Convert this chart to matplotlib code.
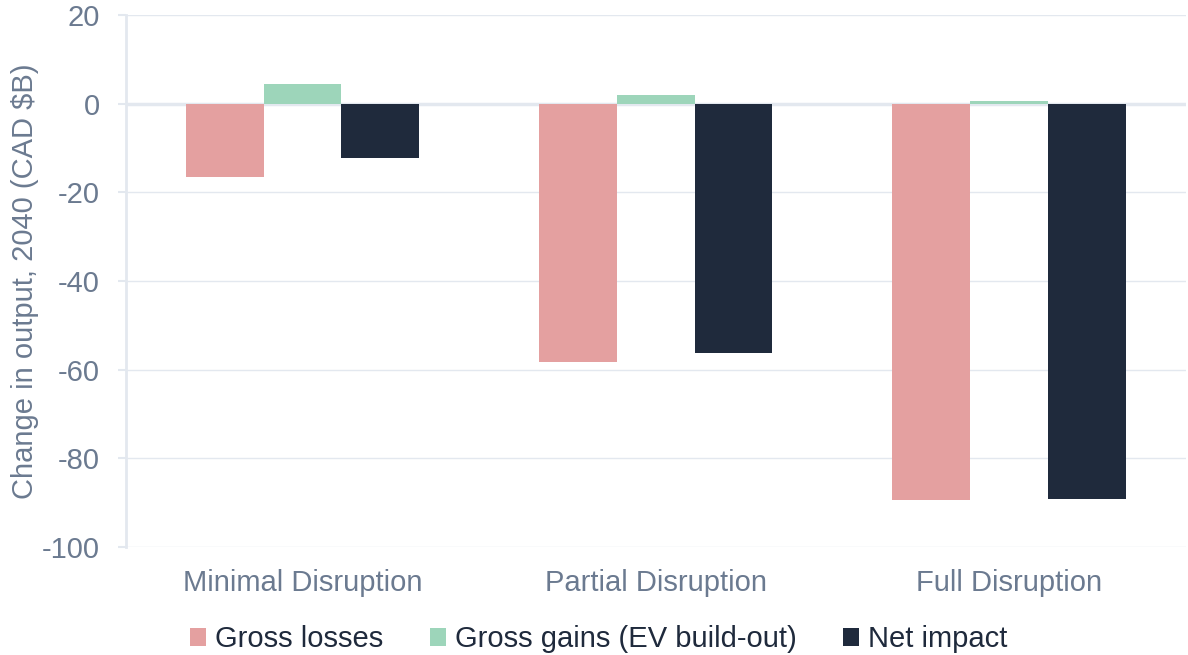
import matplotlib.pyplot as plt
import numpy as np

plt.rcParams['font.family'] = ['Liberation Sans', 'DejaVu Sans']
plt.rcParams['axes.unicode_minus'] = False

scenarios = ['Minimal Disruption', 'Partial Disruption', 'Full Disruption']
series = ['Gross losses', 'Gross gains (EV build-out)', 'Net impact']
gross_losses = [-16.6, -58.3, -89.5]
gross_gains = [4.5, 2.0, 0.5]
net_impact = [-12.2, -56.2, -89.1]
colors = ['#e4a0a0', '#9dd5ba', '#1f2a3c']

txt = '#6b7a90'
grid = '#e3e8ef'

fig = plt.figure(figsize=(11.88, 6.55), dpi=100)
ax = fig.add_axes([0.106, 0.165, 0.892, 0.812])

x = np.arange(len(scenarios))
w = 0.22
for i, (vals, name) in enumerate(zip([gross_losses, gross_gains, net_impact], series)):
    ax.bar(x + (i - 1) * w, vals, w, color=colors[i], label=name, zorder=3)

ax.set_xlim(-0.5, 2.5)
ax.set_ylim(-100, 20)
ax.set_yticks(range(-100, 21, 20))
ax.set_xticks(x)
ax.set_xticklabels(scenarios)
ax.grid(axis='y', color=grid, lw=1, zorder=0)
ax.axhline(0, color=grid, lw=2.5, zorder=2)

for s in ['top', 'right', 'bottom']:
    ax.spines[s].set_visible(False)
ax.spines['left'].set_color(grid)
ax.spines['left'].set_linewidth(2)

ax.tick_params(axis='y', colors=txt, labelsize=21, length=6, color=grid, width=1.5, pad=13)
ax.tick_params(axis='x', colors=txt, labelsize=21, length=0, pad=16)
ax.set_ylabel('Change in output, 2040 (CAD $B)', color=txt, fontsize=21)
ax.yaxis.set_label_coords(-0.082, 0.5)

leg = fig.legend(loc='center', bbox_to_anchor=(0.504, 0.024), ncol=3, frameon=False,
                 fontsize=21, handlelength=0.55, handleheight=0.55, handletextpad=0.3,
                 columnspacing=1.6)
for t in leg.get_texts():
    t.set_color('#1f2a3c')

fig.savefig('out.png', dpi=100)
